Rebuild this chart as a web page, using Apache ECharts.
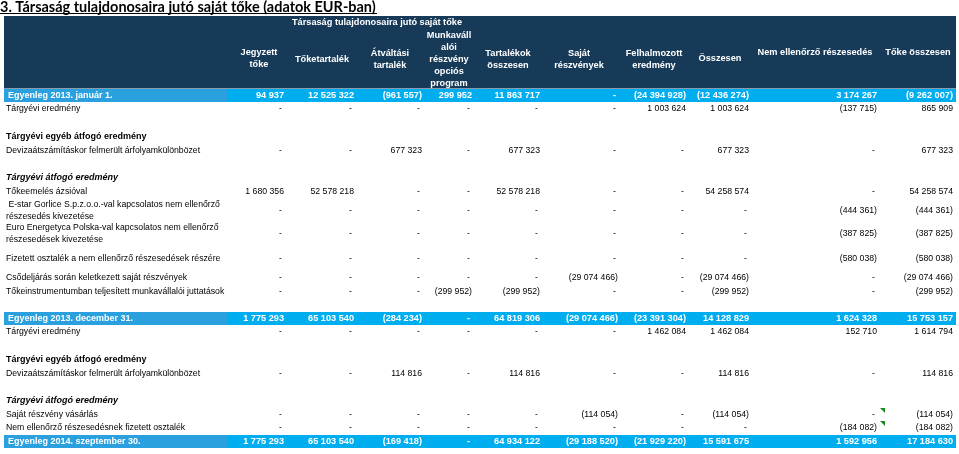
<!DOCTYPE html>
<html><head><meta charset="utf-8">
<script src="https://cdn.jsdelivr.net/npm/echarts@6/dist/echarts.min.js"></script>
<style>html,body{margin:0;padding:0;background:#fff}#c{width:959px;height:454px}</style>
</head><body><div id="c"></div>
<script>
// ---------- DATA ----------
const titleText = '3. Társaság tulajdonosaira jutó saját tőke (adatok EUR-ban)';
const groupHeader = 'Társaság tulajdonosaira jutó saját tőke';
const columnHeaders = ['Jegyzett\ntőke', 'Tőketartalék', 'Átváltási\ntartalék', 'Munkaváll\nalói\nrészvény\nopciós\nprogram',
  'Tartalékok\nösszesen', 'Saját\nrészvények', 'Felhalmozott\neredmény', 'Összesen', 'Nem ellenőrző részesedés', 'Tőke összesen'];
const rowLabels = [
  'Egyenleg 2013. január 1.',
  'Tárgyévi eredmény',
  '',
  'Tárgyévi egyéb átfogó eredmény',
  'Devizaátszámításkor felmerült árfolyamkülönbözet',
  '',
  'Tárgyévi átfogó eredmény',
  'Tőkeemelés ázsióval',
  ' E-star Gorlice S.p.z.o.o.-val kapcsolatos nem ellenőrző\nrészesedés kivezetése',
  'Euro Energetyca Polska-val kapcsolatos nem ellenőrző\nrészesedések kivezetése',
  'Fizetett osztalék a nem ellenőrző részesedések részére',
  'Csődeljárás során keletkezett saját részvények',
  'Tőkeinstrumentumban teljesített munkavállalói juttatások',
  '',
  'Egyenleg 2013. december 31.',
  'Tárgyévi eredmény',
  '',
  'Tárgyévi egyéb átfogó eredmény',
  'Devizaátszámításkor felmerült árfolyamkülönbözet',
  '',
  'Tárgyévi átfogó eredmény',
  'Saját részvény vásárlás',
  'Nem ellenőrző részesedésnek fizetett osztalék',
  'Egyenleg 2014. szeptember 30.'
];
const rowKinds = ['band','row','blank','sec','row','blank','seci','row','row','row','row','row','row','blank',
  'band','row','blank','sec','row','blank','seci','row','row','band'];
// values for rows of kind band/row, in order (0 shown as "-")
const jegyzettToke   = [94937, 0, 0, 1680356, 0, 0, 0, 0, 0, 1775293, 0, 0, 0, 0, 1775293];
const toketartalek   = [12525322, 0, 0, 52578218, 0, 0, 0, 0, 0, 65103540, 0, 0, 0, 0, 65103540];
const atvaltasi      = [-961557, 0, 677323, 0, 0, 0, 0, 0, 0, -284234, 0, 114816, 0, 0, -169418];
const munkavallaloi  = [299952, 0, 0, 0, 0, 0, 0, 0, -299952, 0, 0, 0, 0, 0, 0];
const tartalekok     = [11863717, 0, 677323, 52578218, 0, 0, 0, 0, -299952, 64819306, 0, 114816, 0, 0, 64934122];
const sajatReszveny  = [0, 0, 0, 0, 0, 0, 0, -29074466, 0, -29074466, 0, 0, -114054, 0, -29188520];
const felhalmozott   = [-24394928, 1003624, 0, 0, 0, 0, 0, 0, 0, -23391304, 1462084, 0, 0, 0, -21929220];
const osszesen       = [-12436274, 1003624, 677323, 54258574, 0, 0, 0, -29074466, -299952, 14128829, 1462084, 114816, -114054, 0, 15591675];
const nemEllenorzo   = [3174267, -137715, 0, 0, -444361, -387825, -580038, 0, 0, 1624328, 152710, 0, 0, -184082, 1592956];
const tokeOsszesen   = [-9262007, 865909, 677323, 54258574, -444361, -387825, -580038, -29074466, -299952, 15753157, 1614794, 114816, -114054, -184082, 17184630];
const columns = [jegyzettToke, toketartalek, atvaltasi, munkavallaloi, tartalekok, sajatReszveny, felhalmozott, osszesen, nemEllenorzo, tokeOsszesen];
const commentRows = [21, 22]; // cells with comment marker (Nem ellenőrző column)

// ---------- LAYOUT / STYLE ----------
const W = 959, H = 454;
const tableLeft = 4, tableRight = 956, headerTop = 16, headerBottom = 88.5, bodyTop = 89;
const bandSplit = 227;
const rowHeights = [13,14,14,14,14,13,14,14,23,24,25,14,14,13,13,14,14,14,14,13,14,13,14,13];
const colRight = [284, 354, 422, 472, 540, 618, 686, 749, 877, 953];
const headerCX = [259, 322, 390, 449, 508, 579, 654, 720, 815, 918];
const headerCY = [58.5, 59.5, 59, 59.5, 59, 59, 59, 58.5, 52, 52];
const C_DARK = '#163a58', C_BAND_L = '#2aa1de', C_BAND_R = '#00adef';
const FF = '"Liberation Sans", Arial, sans-serif';

const rowTop = []; const rowCenter = [];
{ let y = bodyTop; rowHeights.forEach((h, i) => { rowTop[i] = y; rowCenter[i] = y + h / 2; y += h; }); }

function fmt(v) {
  if (v === 0) return '-';
  const s = String(Math.abs(v)).replace(/\B(?=(\d{3})+(?!\d))/g, ' ');
  return v < 0 ? '(' + s + ')' : s;
}

// fit title font size to original width
function fitSize(text, weight, family, target) {
  const ctx = document.createElement('canvas').getContext('2d');
  ctx.font = weight + ' 100px ' + family;
  return 100 * target / ctx.measureText(text).width;
}
const titleFamily = 'Lato, "Open Sans", sans-serif';
const titleSize = fitSize(titleText, 'bold', titleFamily, 376);

// data rows
const valueRows = [];
rowKinds.forEach((k, i) => { if (k === 'band' || k === 'row') valueRows.push(i); });
const cellData = [];
valueRows.forEach((r, j) => columns.forEach((col, c) => cellData.push([c, r, col[j]])));
const labelData = [];
rowKinds.forEach((k, i) => { if (k !== 'blank') labelData.push([0, i]); });
const bandData = [];
rowKinds.forEach((k, i) => { if (k === 'band') bandData.push([0, i]); });

const chart = echarts.init(document.getElementById('c'), null, { renderer: 'canvas' });

const graphic = [
  { type: 'text', x: 0, y: 7.5, style: { text: titleText, fontFamily: titleFamily, fontWeight: 'bold', fontSize: titleSize, fill: '#000', textAlign: 'left', textVerticalAlign: 'middle', align: 'left', verticalAlign: 'middle' } },
  { type: 'line', shape: { x1: 0, y1: 13.5, x2: 377, y2: 13.5 }, style: { stroke: '#000', lineWidth: 1 } },
  { type: 'rect', shape: { x: tableLeft, y: headerTop, width: tableRight - tableLeft, height: headerBottom - headerTop }, style: { fill: C_DARK } },
  { type: 'text', x: 377, y: 22.5, style: { text: groupHeader, fontFamily: FF, fontWeight: 'bold', fontSize: 9.2, fill: '#fff', textAlign: 'center', textVerticalAlign: 'middle', align: 'center', verticalAlign: 'middle' } }
];
columnHeaders.forEach((t, i) => graphic.push({
  type: 'text', x: headerCX[i], y: headerCY[i],
  style: { text: t, fontFamily: FF, fontWeight: 'bold', fontSize: 9.2, lineHeight: 12, fill: '#fff', textAlign: 'center', textVerticalAlign: 'middle', align: 'center', verticalAlign: 'middle' }
}));
commentRows.forEach(r => graphic.push({
  type: 'polygon', shape: { points: [[colRight[8] + 3, rowTop[r]], [colRight[8] + 8, rowTop[r]], [colRight[8] + 8, rowTop[r] + 5]] },
  style: { fill: '#1e8a1e' }
}));

chart.setOption({
  animation: false,
  grid: { left: 0, right: 0, top: 0, bottom: 0 },
  xAxis: { type: 'value', min: 0, max: W, show: false },
  yAxis: { type: 'value', min: 0, max: H, inverse: true, show: false },
  graphic: graphic,
  series: [
    { // band backgrounds
      type: 'custom', coordinateSystem: 'cartesian2d', data: bandData, z: 1,
      renderItem(params, api) {
        const r = api.value(1);
        const p0 = api.coord([tableLeft, rowTop[r]]);
        const p1 = api.coord([bandSplit, rowTop[r] + rowHeights[r]]);
        const p2 = api.coord([tableRight, rowTop[r] + rowHeights[r]]);
        return { type: 'group', children: [
          { type: 'rect', shape: { x: p0[0], y: p0[1], width: p1[0] - p0[0], height: p1[1] - p0[1] }, style: { fill: C_BAND_L } },
          { type: 'rect', shape: { x: p1[0], y: p0[1], width: p2[0] - p1[0], height: p1[1] - p0[1] }, style: { fill: C_BAND_R } }
        ] };
      }
    },
    { // row labels
      type: 'custom', coordinateSystem: 'cartesian2d', data: labelData, z: 2,
      renderItem(params, api) {
        const r = api.value(1); const k = rowKinds[r];
        const p = api.coord([k === 'band' ? 8 : 6, rowCenter[r]]);
        return { type: 'text', x: p[0], y: p[1], style: {
          text: rowLabels[r], fontFamily: FF,
          fontWeight: (k === 'band' || k === 'sec' || k === 'seci') ? 'bold' : 'normal',
          fontStyle: k === 'seci' ? 'italic' : 'normal',
          fontSize: k === 'row' ? 8.7 : 9, lineHeight: 12,
          fill: k === 'band' ? '#fff' : '#000',
          textAlign: 'left', textVerticalAlign: 'middle', align: 'left', verticalAlign: 'middle' } };
      }
    },
    { // cells
      type: 'custom', coordinateSystem: 'cartesian2d', data: cellData, z: 3,
      renderItem(params, api) {
        const c = api.value(0), r = api.value(1), v = api.value(2);
        const band = rowKinds[r] === 'band';
        const p = api.coord([colRight[c] - (v === 0 ? 2 : 0), rowCenter[r]]);
        return { type: 'text', x: p[0], y: p[1], style: {
          text: fmt(v), fontFamily: FF, fontWeight: band ? 'bold' : 'normal', fontSize: band ? 9.2 : 8.7,
          fill: band ? '#fff' : '#000',
          textAlign: 'right', textVerticalAlign: 'middle', align: 'right', verticalAlign: 'middle' } };
      }
    }
  ]
});
</script></body></html>
